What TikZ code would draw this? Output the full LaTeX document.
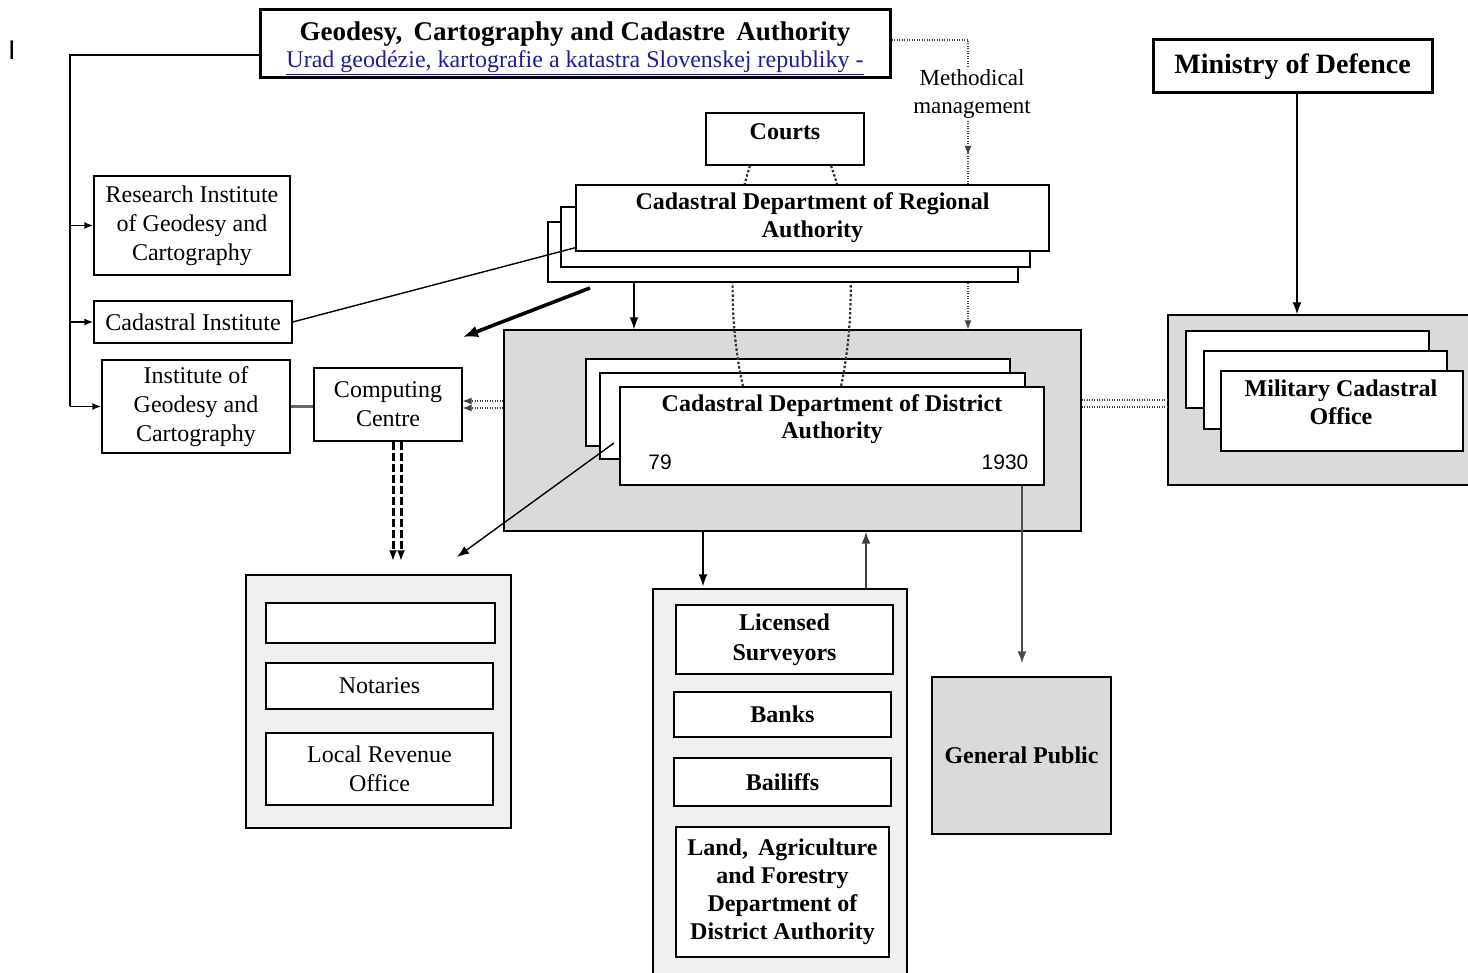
\documentclass[tikz,border=0pt]{standalone}
\usepackage{fontspec}
\setmainfont{Liberation Serif}
\newfontfamily\arialf{Liberation Sans}
\usetikzlibrary{arrows.meta,calc}
\definecolor{graybg}{RGB}{218,218,218}
\definecolor{lightbg}{RGB}{240,240,240}
\definecolor{linkblue}{RGB}{30,30,150}
\begin{document}
\begin{tikzpicture}[x=1pt,y=-1pt,
  box/.style={draw=black, line width=1.4pt, fill=white, inner sep=0pt, align=center, font=\fontsize{24}{29}\selectfont},
  boldbox/.style={box, font=\bfseries\fontsize{24}{28}\selectfont},
  graybox/.style={draw=black, line width=1.4pt, fill=graybg, inner sep=0pt, align=center, font=\bfseries\fontsize{24}{28}\selectfont},
  lightbox/.style={draw=black, line width=1.4pt, fill=lightbg, inner sep=0pt},
  txt/.style={inner sep=0pt, align=center},
  conn/.style={line width=1.4pt, draw=black},
  tip/.style={-{Latex[length=12pt,width=9pt]}},
  smalltip/.style={-{Latex[length=9pt,width=7pt]}},
  dotline/.style={dash pattern=on 1pt off 1.5pt, line width=1.2pt, draw=black!75},
  courtcurve/.style={dash pattern=on 2.5pt off 2pt, line width=2.2pt, draw=black!80}
]
\useasboundingbox (0,0) rectangle (1468,973);

% stray mark
\node[txt, font=\arialf\fontsize{27}{30}\selectfont] (romI) at (12,50) {I};

% ---------- gray containers ----------
\node[graybox, minimum width=577pt, minimum height=201pt] (cgray) at (792.5,430.5) {};
\node[graybox, minimum width=307pt, minimum height=170pt] (milgray) at (1321.5,400) {};
\node[lightbox, minimum width=265pt, minimum height=253pt] (lgroup) at (378.5,701.5) {};
\node[lightbox, minimum width=254pt, minimum height=396pt] (mgroup) at (780,787) {};

% ---------- district stack ----------
\node[box, minimum width=424pt, minimum height=87pt] (distback) at (798,402.5) {};
\node[box, minimum width=425pt, minimum height=86pt] (distmid) at (812.5,416) {};
\node[box, minimum width=424pt, minimum height=98pt] (distfront) at (832,436) {};
\node[txt, font=\bfseries\fontsize{24}{27}\selectfont] (disttxt) at (832,419) {Cadastral Department of District\\Authority};
\node[txt, font=\arialf\fontsize{21}{24}\selectfont] (n79) at (660,462) {79};
\node[txt, font=\arialf\fontsize{21}{24}\selectfont] (n1930) at (1005,462) {1930};

% ---------- top boxes ----------
\node[box, line width=3pt, minimum width=630pt, minimum height=68pt] (gcca) at (575,44) {};
\node[txt, font=\fontsize{24}{27}\selectfont] (gccatxt) at (575,48)
  {{\bfseries\fontsize{27}{27}\selectfont Geodesy,\, Cartography and Cadastre\, Authority}\\{\color{linkblue}\underline{Urad geodézie, kartografie a katastra Slovenskej republiky -}}};
\node[box, line width=3pt, minimum width=279pt, minimum height=53pt, font=\bfseries\fontsize{28}{30}\selectfont] (mod) at (1292.5,66.5) {Ministry of Defence};

\node[box, minimum width=158pt, minimum height=52pt] (courts) at (785,139) {};
\node[txt, font=\bfseries\fontsize{24}{28}\selectfont] (courtstxt) at (785,132) {Courts};

% ---------- lines drawn behind regional boxes ----------
\coordinate (m1) at (968,40);
\coordinate (m2) at (968,155);
\draw[dotline, smalltip] (gcca.east |- m1) -- (m1) -- (m1 |- cgray.north);

\draw[courtcurve] ($(courts.south)+(-35,0)$) .. controls (726,240) and (730,330) .. ($(distfront.north)+(-89,0)$);
\draw[courtcurve] ($(courts.south)+(46,0)$) .. controls (858,240) and (853,330) .. ($(distfront.north)+(9,0)$);

% ---------- regional stack ----------
\node[box, minimum width=470pt, minimum height=60pt] (regback) at (783,252) {};
\node[box, minimum width=469pt, minimum height=60pt] (regmid) at (795.5,237) {};
\node[boldbox, minimum width=473pt, minimum height=66pt] (regfront) at (812.5,218) {Cadastral Department of Regional\\Authority};

\node[txt, fill=white, inner sep=2pt, font=\fontsize{23}{28}\selectfont] (meth) at (972,94) {Methodical\\management};
\draw[dotline, smalltip] (meth.south -| m1) -- (m2);

% ---------- left institutes ----------
\node[box, minimum width=196pt, minimum height=99pt] (research) at (192,225.5) {Research Institute\\of Geodesy and\\Cartography};
\node[box, minimum width=198pt, minimum height=42pt] (cadinst) at (193,322) {Cadastral Institute};
\node[box, minimum width=188pt, minimum height=93pt] (igc) at (196,406.5) {Institute of\\Geodesy and\\Cartography};
\node[box, minimum width=148pt, minimum height=73pt] (computing) at (388,404.5) {Computing\\Centre};

% ---------- military stack ----------
\node[box, minimum width=243pt, minimum height=77pt] (milback) at (1307.5,369.5) {};
\node[box, minimum width=243pt, minimum height=78pt] (milmid) at (1325.5,390) {};
\node[box, minimum width=242pt, minimum height=80pt] (milfront) at (1342,411) {};
\node[txt, font=\bfseries\fontsize{24}{28}\selectfont] (miltxt) at (1341,402) {Military Cadastral\\Office};

% ---------- left lower group ----------
\node[box, minimum width=229pt, minimum height=40pt] (lempty) at (380.5,623) {};
\node[box, minimum width=227pt, minimum height=46pt] (notaries) at (379.5,686) {Notaries};
\node[box, minimum width=227pt, minimum height=72pt] (lro) at (379.5,769) {Local Revenue\\Office};

% ---------- middle lower group ----------
\node[boldbox, minimum width=217pt, minimum height=69pt, font=\bfseries\fontsize{24}{30}\selectfont] (licensed) at (784.5,639.5) {Licensed\\Surveyors};
\node[boldbox, minimum width=217pt, minimum height=45pt] (banks) at (782.5,714.5) {Banks};
\node[boldbox, minimum width=217pt, minimum height=48pt] (bailiffs) at (782.5,782) {Bailiffs};
\node[boldbox, minimum width=213pt, minimum height=130pt] (land) at (782.5,892) {Land,\, Agriculture\\and Forestry\\Department of\\District Authority};

% ---------- general public ----------
\node[graybox, minimum width=179pt, minimum height=157pt] (gp) at (1021.5,755.5) {General Public};

% ---------- connectors ----------
\coordinate (sp1) at (70,55);
\draw[conn] (gcca.west |- sp1) -- (sp1) -- (sp1 |- igc.west);
\draw[conn, smalltip] (research.west -| sp1) -- (research.west);
\draw[conn, smalltip] (cadinst.west -| sp1) -- (cadinst.west);
\draw[conn, smalltip] (igc.west -| sp1) -- (igc.west);

\draw[line width=3pt, black!60] (igc.east) -- (igc.east -| computing.west);

\draw[dotline, smalltip] ($(computing.east -| cgray.west)+(0,-3.5)$) -- ($(computing.east)+(0,-3.5)$);
\draw[dotline, smalltip] ($(computing.east -| cgray.west)+(0,3.5)$) -- ($(computing.east)+(0,3.5)$);

\draw[line width=3pt, dash pattern=on 8pt off 3pt, shorten >=13pt, -{Latex[length=11pt,width=8pt]}] ($(computing.south)+(5,0)$) -- ($(computing.south |- lgroup.north)+(5,0)$);
\draw[line width=3pt, dash pattern=on 8pt off 3pt, shorten >=13pt, -{Latex[length=11pt,width=8pt]}] ($(computing.south)+(13,0)$) -- ($(computing.south |- lgroup.north)+(13,0)$);

\coordinate (ra) at (634,300);
\draw[conn, tip] (regback.south -| ra) -- (cgray.north -| ra);

\draw[conn] (cadinst.east) -- ([yshift=4pt]regfront.south west);

\coordinate (ta1) at (590,288);
\coordinate (ta2) at (463,337);
\draw[line width=3.6pt, -{Latex[length=15pt,width=12pt]}] (ta1) -- (ta2);

\coordinate (da1) at (614,443);
\coordinate (da2) at (457,557);
\draw[conn, tip] (da1) -- (da2);

\coordinate (cm) at (0,403.5);
\draw[dotline] ($(cgray.east |- cm)+(0,-3.5)$) -- ($(milgray.west |- cm)+(0,-3.5)$);
\draw[dotline] ($(cgray.east |- cm)+(0,3.5)$) -- ($(milgray.west |- cm)+(0,3.5)$);

\coordinate (mx) at (1297,0);
\draw[conn, tip] (mod.south -| mx) -- (milgray.north -| mx);

\coordinate (ga) at (703,0);
\coordinate (gb) at (866,0);
\draw[conn, tip, shorten >=2pt] (cgray.south -| ga) -- (mgroup.north -| ga);
\draw[line width=1.8pt, black!75, tip] (mgroup.north -| gb) -- (cgray.south -| gb);

\coordinate (gc) at (1022,0);
\draw[line width=1.6pt, black!70, tip, shorten >=13pt] (distfront.south -| gc) -- (gp.north -| gc);
\end{tikzpicture}
\end{document}
